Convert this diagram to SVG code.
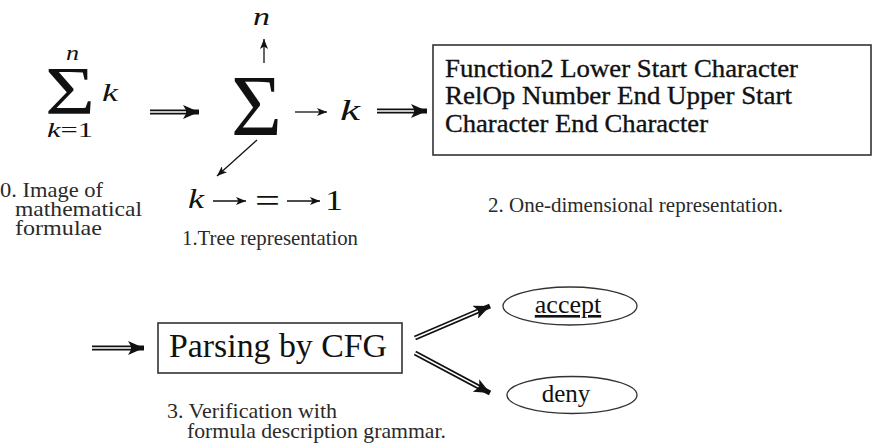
<svg xmlns="http://www.w3.org/2000/svg" width="873" height="446" viewBox="0 0 873 446" font-family="Liberation Serif, Times New Roman, serif">
<defs>
<style>
.t{fill:#111}
.i{font-style:italic;fill:#111}
.lbl{font-size:21px;fill:#2a2a2a}
.box{fill:#fff;stroke:#333;stroke-width:1.6}
.dbl{stroke:#111;stroke-width:5;fill:none}
.dbl-in{stroke:#fff;stroke-width:1.6;fill:none}
.sgl{stroke:#111;stroke-width:1.3;fill:none}
</style>
<marker id="bigHead" markerUnits="userSpaceOnUse" viewBox="0 0 16 14" markerWidth="16" markerHeight="14" refX="16" refY="7" orient="auto">
<path d="M0,0 L16,7 L0,14 L4,7 z" fill="#111"/>
</marker>
<marker id="smallHead" markerUnits="userSpaceOnUse" viewBox="0 0 10 8" markerWidth="10" markerHeight="8" refX="10" refY="4" orient="auto">
<path d="M0,0 L10,4 L0,8 L2.5,4 z" fill="#111"/>
</marker>
</defs>
<rect width="873" height="446" fill="#fff"/>

<g id="formula-image">
<text class="t" x="45" y="113" font-size="68" textLength="50" lengthAdjust="spacingAndGlyphs">Σ</text>
<text class="i" x="66" y="60" font-size="21" textLength="13" lengthAdjust="spacingAndGlyphs">n</text>
<text class="i" x="102" y="101" font-size="25" textLength="16" lengthAdjust="spacingAndGlyphs">k</text>
<text class="i" x="47" y="137" font-size="21" textLength="46" lengthAdjust="spacingAndGlyphs">k<tspan font-style="normal">=1</tspan></text>
</g>
<g id="label0">
<text class="lbl" x="0" y="197" textLength="103" lengthAdjust="spacingAndGlyphs">0. Image of</text>
<text class="lbl" x="15" y="216" textLength="127" lengthAdjust="spacingAndGlyphs">mathematical</text>
<text class="lbl" x="15" y="235" textLength="87" lengthAdjust="spacingAndGlyphs">formulae</text>
</g>

<g id="tree">
<text class="t" x="231" y="135" font-size="86" textLength="51" lengthAdjust="spacingAndGlyphs">Σ</text>
<text class="i" x="253" y="25" font-size="25" textLength="17" lengthAdjust="spacingAndGlyphs">n</text>
<text class="i" x="340" y="120" font-size="29" textLength="20" lengthAdjust="spacingAndGlyphs">k</text>
<text class="i" x="188" y="208" font-size="27" textLength="16" lengthAdjust="spacingAndGlyphs">k</text>
<text class="t" x="255" y="212" font-size="34" textLength="25" lengthAdjust="spacingAndGlyphs">=</text>
<text class="t" x="325" y="210" font-size="30" textLength="18" lengthAdjust="spacingAndGlyphs">1</text>
</g>
<g id="label1">
<text class="lbl" x="182" y="245" textLength="176" lengthAdjust="spacingAndGlyphs">1.Tree representation</text>
</g>

<g id="onedim">
<rect class="box" x="433" y="45" width="438" height="110"/>
<g class="t" font-size="26" stroke="#111" stroke-width="0.35">
<text x="445" y="77" textLength="353" lengthAdjust="spacingAndGlyphs">Function2 Lower Start Character</text>
<text x="445" y="104" textLength="347" lengthAdjust="spacingAndGlyphs">RelOp Number End Upper Start</text>
<text x="445" y="132" textLength="263" lengthAdjust="spacingAndGlyphs">Character End Character</text>
</g>
</g>
<g id="label2">
<text class="lbl" x="488" y="212" textLength="295" lengthAdjust="spacingAndGlyphs">2. One-dimensional representation.</text>
</g>

<g id="parser">
<rect class="box" x="158" y="323" width="244" height="50"/>
<text class="t" x="169" y="357" font-size="33" textLength="218" lengthAdjust="spacingAndGlyphs">Parsing by CFG</text>
</g>
<g id="label3">
<text class="lbl" x="167" y="418" textLength="170" lengthAdjust="spacingAndGlyphs">3. Verification with</text>
<text class="lbl" x="187" y="438" textLength="259" lengthAdjust="spacingAndGlyphs">formula description grammar.</text>
</g>

<g id="accept">
<ellipse cx="570" cy="306" rx="67" ry="19" fill="#fff" stroke="#333" stroke-width="1.3"/>
<text class="t" x="568" y="313" font-size="26" text-anchor="middle" text-decoration="underline">accept</text>
</g>
<g id="deny">
<ellipse cx="572" cy="395" rx="65" ry="18.5" fill="#fff" stroke="#333" stroke-width="1.3"/>
<text class="t" x="566" y="402" font-size="25" text-anchor="middle">deny</text>
</g>

<g id="connectors">
<line class="dbl" x1="150" y1="112" x2="199" y2="112" marker-end="url(#bigHead)"/>
<line class="dbl-in" x1="150" y1="112" x2="186" y2="112"/>
<line class="dbl" x1="377" y1="111" x2="427" y2="111" marker-end="url(#bigHead)"/>
<line class="dbl-in" x1="377" y1="111" x2="414" y2="111"/>
<line class="dbl" x1="92" y1="348" x2="144" y2="348" marker-end="url(#bigHead)"/>
<line class="dbl-in" x1="92" y1="348" x2="131" y2="348"/>
<line class="dbl" x1="415" y1="338" x2="490" y2="306" marker-end="url(#bigHead)"/>
<line class="dbl-in" x1="415" y1="338" x2="478" y2="311.1"/>
<line class="dbl" x1="415" y1="353" x2="490" y2="393" marker-end="url(#bigHead)"/>
<line class="dbl-in" x1="415" y1="353" x2="478.5" y2="386.9"/>
<line class="sgl" x1="264" y1="63" x2="264" y2="39" marker-end="url(#smallHead)"/>
<line class="sgl" x1="295" y1="112" x2="327" y2="112" marker-end="url(#smallHead)"/>
<line class="sgl" x1="257" y1="140" x2="217" y2="176" marker-end="url(#smallHead)"/>
<line class="sgl" x1="213" y1="201" x2="246" y2="201" marker-end="url(#smallHead)"/>
<line class="sgl" x1="287" y1="201" x2="320" y2="201" marker-end="url(#smallHead)"/>
</g>
</svg>
